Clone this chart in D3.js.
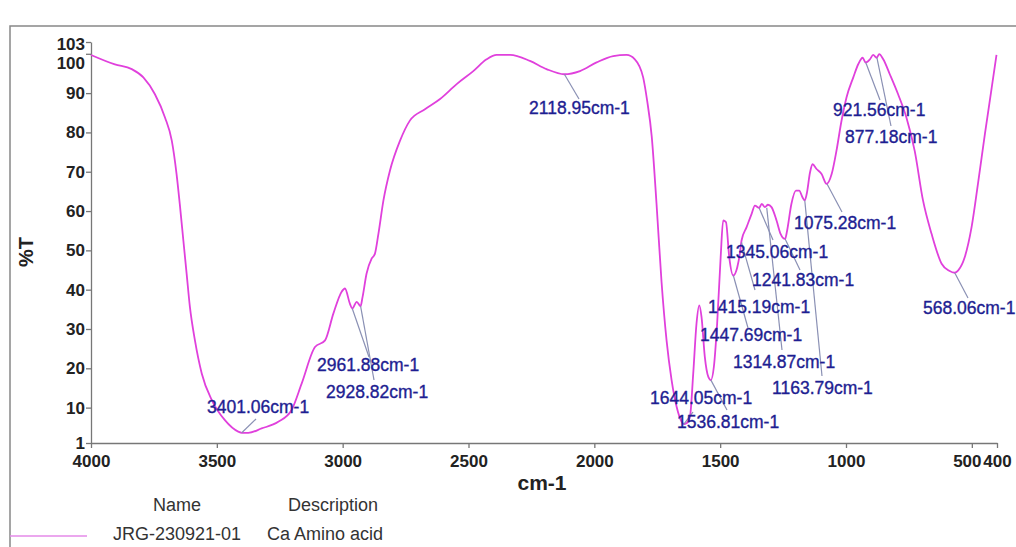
<!DOCTYPE html>
<html lang = 'en'>
    <head>
        <meta charset = 'UTF-8'>
        <title>FTIR Spectrum</title>
        <script src="https://d3js.org/d3.v7.min.js"></script>
        <style>
            body {
                margin: 0;
                background: white;
                font-family: "Liberation Sans", Arial, sans-serif;
            }
            svg {
                display: block;
            }
            .tick text {
                font-size: 17px;
                fill: #222;
                font-weight: bold;
            }
            .peak-label {
                font-size: 17.5px;
                fill: #1e1e92;
                stroke: #1e1e92;
                stroke-width: 0.35px;
            }
        </style>
    </head>
    <body>
        <svg width = '1016' height = '547'></svg>

        <script>
            // spectrum (wavenumber cm-1, %T)
            const wavenumbers = [4000, 3905, 3838, 3792, 3746, 3706, 3679, 3660, 3646, 3633, 3620, 3607, 3587, 3560, 3520,
                3468, 3415, 3401, 3375, 3322, 3256, 3203, 3163, 3110, 3070, 3037, 3004, 2991, 2971, 2962, 2944, 2929,
                2921, 2905, 2885, 2872, 2858, 2838, 2812, 2772, 2733, 2673, 2613, 2547, 2481, 2428, 2388, 2335, 2256,
                2190, 2119, 2057, 1991, 1925, 1872, 1839, 1806, 1790, 1772, 1753, 1733, 1713, 1693, 1673, 1653, 1644,
                1634, 1620, 1607, 1594, 1583, 1574, 1561, 1547, 1537, 1525, 1512, 1498, 1488, 1477, 1464, 1448, 1432,
                1422, 1415, 1395, 1375, 1362, 1345, 1335, 1322, 1310, 1296, 1276, 1260, 1242, 1234, 1217, 1199, 1186,
                1173, 1164, 1156, 1143, 1133, 1117, 1097, 1077, 1057, 1038, 1018, 998, 971, 951, 934, 922, 905, 892,
                878, 868, 852, 826, 793, 760, 727, 694, 660, 620, 590, 568, 554, 528, 501, 474, 448, 421, 402];
            const transmittance = [99.7, 97.3, 96.1, 94.0, 89.7, 83.8, 77.9, 69.4, 61.0, 52.5, 44.1, 35.6, 27.1, 18.7, 11.9,
                6.8, 3.9, 3.6, 3.6, 4.7, 6.4, 9.4, 16.1, 25.4, 27.1, 33.9, 39.5, 40.3, 36.4, 35.2, 36.9, 35.8,
                38.1, 44.1, 47.9, 49.1, 54.2, 62.7, 70.3, 77.9, 83.0, 85.9, 88.5, 92.3, 95.6, 98.6, 99.7, 99.7, 98.2,
                96.1, 94.8, 95.6, 97.8, 99.4, 99.7, 98.6, 94.0, 88.0, 79.0, 62.0, 42.0, 27.1, 17.0, 10.2, 6.4, 5.8,
                6.0, 7.7, 18.7, 31.4, 36.0, 33.0, 22.9, 17.8, 17.0, 20.4, 31.4, 48.3, 57.6, 57.2, 48.3, 43.6, 45.7,
                49.1, 52.5, 55.9, 59.3, 61.4, 60.8, 61.8, 61.0, 61.6, 61.0, 57.6, 54.2, 52.9, 55.0, 61.8, 65.2, 65.2,
                63.5, 62.7, 64.4, 69.8, 71.9, 70.7, 69.4, 66.9, 69.4, 75.3, 82.9, 88.9, 94.0, 97.4, 99.0, 97.8, 98.6, 99.7,
                99.0, 99.9, 98.6, 94.8, 89.7, 83.8, 75.3, 62.7, 54.2, 46.6, 44.8, 44.3, 44.9, 48.3, 55.9, 67.7, 79.6, 91.4, 99.7];

            // labelled peaks
            const peakWn = [3401.06, 2961.88, 2928.82, 2118.95, 1644.05, 1536.81, 1447.69, 1415.19,
                1345.06, 1314.87, 1241.83, 1163.79, 1075.28, 921.56, 877.18, 568.06];
            const peakT = [3.6, 35.2, 35.8, 94.8, 5.8, 17.0, 43.6, 52.0, 60.8, 60.8, 52.9, 62.7, 66.9, 97.8, 99.0, 44.3];

            const xTicks = [4000, 3500, 3000, 2500, 2000, 1500, 1000, 500, 400];
            const yTicks = [1, 10, 20, 30, 40, 50, 60, 70, 80, 90, 100, 103];

            const legendName = 'JRG-230921-01';
            const legendDesc = 'Ca Amino acid';

            // label placement: [text left, text middle y, leader end x, leader end y]
            const labelPos = [
                [207, 407, 256, 419], [317, 365, 369, 357], [326, 392, 374, 380], [529, 108, 579, 99],
                [650, 398, 693, 412], [677, 422, 727, 410], [700, 335, 748, 328], [708, 307, 755, 290],
                [726, 252, 773, 240], [733, 362, 782, 350], [752, 280, 800, 270], [772, 388, 822, 376],
                [794, 223, 842, 212], [833, 110, 880, 100], [845, 137, 891, 126], [923, 308, 968, 298]
            ];

            let svg = d3.select('svg');

            // outer frame
            svg.append('path')
                .attr('d', 'M10,560 L10,26 L1030,26')
                .attr('fill', 'none')
                .attr('stroke', '#888')
                .attr('stroke-width', 1.5);

            let x = d3.scaleLinear().domain([4000, 400]).range([91, 997]);
            let y = d3.scaleLinear().domain([1, 103]).range([443, 42]);

            //axes
            let xAxis = svg.append('g')
                .attr('transform', 'translate(0,443)')
                .call(d3.axisBottom(x).tickValues(xTicks).tickSize(5).tickSizeOuter(0).tickFormat(d3.format('d')));
            xAxis.selectAll('text').attr('dy', '0.95em');
            xAxis.selectAll('.tick').filter(d => d == 500).select('text').attr('dx', -5);

            let yAxis = svg.append('g')
                .attr('transform', 'translate(91,0)')
                .call(d3.axisLeft(y).tickValues(yTicks).tickSize(5).tickSizeOuter(0).tickFormat(d3.format('d')));
            yAxis.selectAll('text').attr('x', -6);
            yAxis.selectAll('.tick').filter(d => d == 100).select('text').attr('dy', '0.85em');
            yAxis.selectAll('.tick').filter(d => d == 103).select('text').attr('dy', '0.45em');

            svg.selectAll('.domain, .tick line').attr('stroke', '#777').attr('stroke-width', 1.3);

            // axis titles
            svg.append('text')
                .attr('transform', 'translate(33,252) rotate(-90)')
                .attr('text-anchor', 'middle')
                .style('font-size', '20px').style('font-weight', 'bold').attr('fill', '#222')
                .text('%T');
            svg.append('text')
                .attr('x', 542).attr('y', 490)
                .attr('text-anchor', 'middle')
                .style('font-size', '21px').style('font-weight', 'bold').attr('fill', '#222')
                .text('cm-1');

            // spectrum
            let spectrum = wavenumbers.map((w, i) => [w, transmittance[i]]);
            let line = d3.line()
                .x(d => x(d[0]))
                .y(d => y(d[1]))
                .curve(d3.curveMonotoneX);

            svg.append('path')
                .datum(spectrum)
                .attr('d', line)
                .attr('fill', 'none')
                .attr('stroke', '#e040dc')
                .attr('stroke-width', 1.8)
                .attr('stroke-linejoin', 'round');

            // peak labels + leaders
            let peaks = peakWn.map((w, i) => ({w: w, t: peakT[i], pos: labelPos[i]}));
            let ann = svg.append('g');
            ann.selectAll('line')
                .data(peaks)
                .enter()
                .append('line')
                .attr('x1', d => x(d.w)).attr('y1', d => y(d.t))
                .attr('x2', d => d.pos[2]).attr('y2', d => d.pos[3])
                .attr('stroke', '#8a90b4')
                .attr('stroke-width', 1.2);
            ann.selectAll('text')
                .data(peaks)
                .enter()
                .append('text')
                .attr('class', 'peak-label')
                .attr('x', d => d.pos[0]).attr('y', d => d.pos[1])
                .attr('dy', '0.36em')
                .text(d => d.w.toFixed(2) + 'cm-1');

            // legend
            let legend = svg.append('g').style('font-size', '18px').attr('fill', '#333');
            legend.append('text').attr('x', 177).attr('y', 511).attr('text-anchor', 'middle').text('Name');
            legend.append('text').attr('x', 333).attr('y', 511).attr('text-anchor', 'middle').text('Description');
            legend.append('text').attr('x', 177).attr('y', 540).attr('text-anchor', 'middle').text(legendName);
            legend.append('text').attr('x', 267).attr('y', 540).text(legendDesc);
            legend.append('line')
                .attr('x1', 10).attr('x2', 87).attr('y1', 536).attr('y2', 536)
                .attr('stroke', '#e58ae8').attr('stroke-width', 1.5);
        </script>
    </body>
</html>
